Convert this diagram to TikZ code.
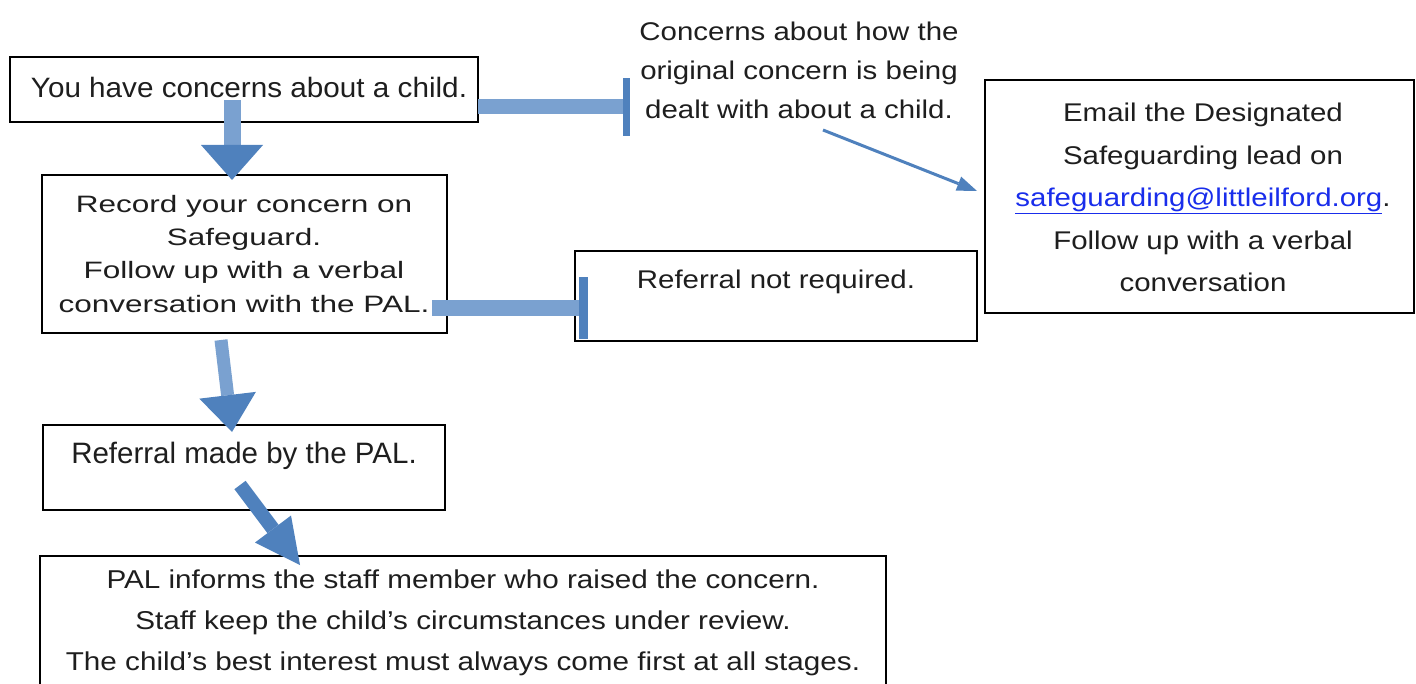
\documentclass[tikz,border=0pt]{standalone}
\usepackage{fontspec}
\setmainfont{Liberation Sans}
\newfontfamily\fA{Liberation Sans}[FakeStretch=1.15]
\newfontfamily\fB{Liberation Sans}[FakeStretch=1.06]
\newfontfamily\fC{Liberation Sans}[FakeStretch=1.33]
\usetikzlibrary{arrows.meta}
\definecolor{shaft}{RGB}{122,161,208}
\definecolor{head}{RGB}{79,129,189}
\definecolor{txt}{RGB}{30,30,30}
\definecolor{link}{RGB}{25,45,235}
\begin{document}
\begin{tikzpicture}[x=1pt,y=-1pt,
  box/.style={draw=black,line width=2pt,inner sep=0pt},
  lbl/.style={anchor=north,inner sep=0pt,align=center,text=txt},
  block/.style={draw=shaft,line width=#1},
  thin/.style={draw=head,line width=3pt,-{Triangle[width=15pt,length=20pt,line width=0pt,color=head]}}]
\useasboundingbox (0,0) rectangle (1416,684);
% boxes
\node[box,minimum width=468pt,minimum height=65pt] (b1) at (244,89.5) {};
\node[box,minimum width=405pt,minimum height=158pt] (b2) at (244.5,254) {};
\node[box,minimum width=402pt,minimum height=90pt] (b3) at (776,296) {};
\node[box,minimum width=429pt,minimum height=233pt] (b4) at (1199.5,196.5) {};
\node[box,minimum width=402pt,minimum height=85pt] (b5) at (244,467.5) {};
\node[box,minimum width=846pt,minimum height=144pt] (b6) at (463,628) {};
% texts
\node[lbl,font=\fontsize{28}{34}\fB] (t1) at (249,76.7) {You have concerns about a child.};
\node[lbl,font=\fontsize{23.7}{33.3}\fC] (t2) at (244,195) {Record your concern on\\Safeguard.\\Follow up with a verbal\\conversation with the PAL.};
\node[lbl,font=\fontsize{25.6}{40}\fA] (t3) at (776,270) {Referral not required.};
\node[lbl,font=\fontsize{25.6}{42.5}\fA] (t4) at (1203,103) {Email the Designated\\Safeguarding lead on\\\textcolor{link}{\underline{safeguarding@littleilford.org}}.\\Follow up with a verbal\\conversation};
\node[lbl,font=\fontsize{25.6}{39}\fA] (t5) at (799,21.7) {Concerns about how the\\original concern is being\\dealt with about a child.};
\node[lbl,font=\fontsize{29.5}{36}\selectfont] (t6) at (244,441.7) {Referral made by the PAL.};
\node[lbl,font=\fontsize{25.8}{41}\fA] (t7) at (463,570) {PAL informs the staff member who raised the concern.\\Staff keep the child’s circumstances under review.\\The child’s best interest must always come first at all stages.};
% connector end points
\coordinate (d1s) at (232,100);
\coordinate (d1e) at (232,180);
\coordinate (h1s) at (478,107);
\coordinate (h1e) at (630,107);
\coordinate (h2s) at (432,308);
\coordinate (h2e) at (588,308);
\coordinate (d2s) at (221,340);
\coordinate (d2e) at (232,432);
\coordinate (d3s) at (240,485);
\coordinate (d3e) at (300,565);
\coordinate (ts) at (823,130);
\coordinate (te) at (977,191);
% arrows
\draw[block=17pt,-{Triangle[width=62pt,length=35pt,line width=0pt,color=head]}] (d1s) -- (d1e);
\draw[block=15pt,-{Rectangle[width=58pt,length=7pt,line width=0pt,color=head]}] (h1s) -- (h1e);
\draw[block=16pt,-{Rectangle[width=62pt,length=9pt,line width=0pt,color=head]}] (h2s) -- (h2e);
\draw[block=13pt,-{Triangle[width=57pt,length=37pt,line width=0pt,color=head]}] (d2s) -- (d2e);
\draw[block=14pt,draw=head,-{Triangle[width=45pt,length=45pt,line width=0pt,color=head]}] (d3s) -- (d3e);
\draw[thin] (ts) -- (te);
\end{tikzpicture}
\end{document}
